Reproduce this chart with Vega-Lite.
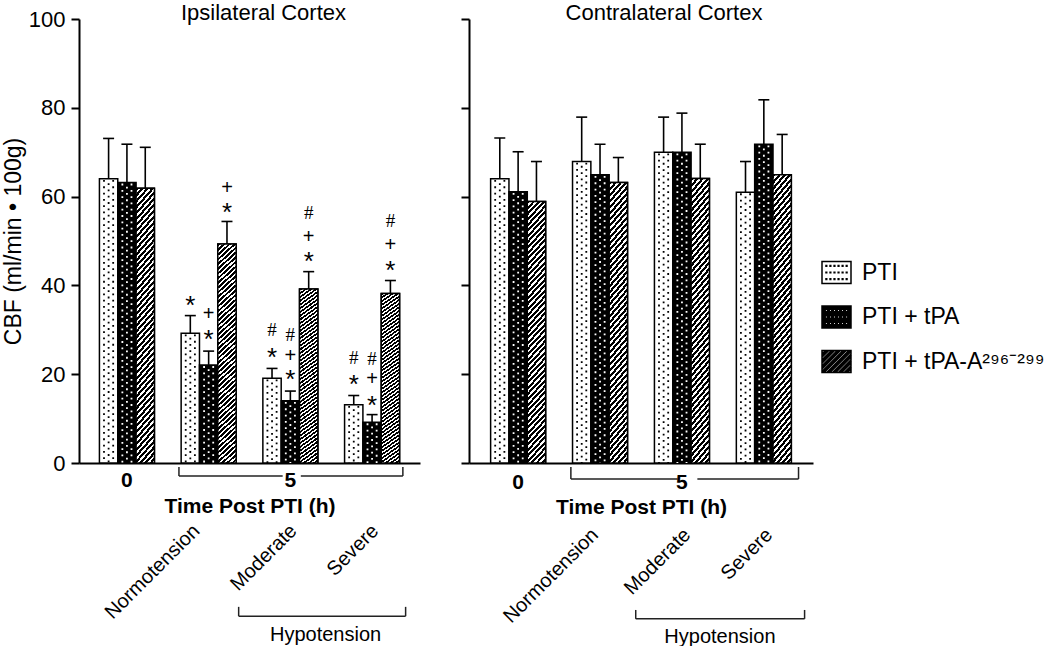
{
"$schema": "https://vega.github.io/schema/vega-lite/v6.json",
"padding": {"left": 2, "top": 2, "right": 0, "bottom": 0},
"spacing": 40,
"datasets": {
"bars": [
{"cortex":"Ipsilateral","group":"0h","series":"PTI","value":64,"err":73.1},
{"cortex":"Ipsilateral","group":"0h","series":"PTI + tPA","value":63.2,"err":71.8},
{"cortex":"Ipsilateral","group":"0h","series":"PTI + tPA-A²⁹⁶⁻²⁹⁹","value":61.9,"err":71.1},
{"cortex":"Ipsilateral","group":"Normotension","series":"PTI","value":29.2,"err":33.2},
{"cortex":"Ipsilateral","group":"Normotension","series":"PTI + tPA","value":22.1,"err":25.2},
{"cortex":"Ipsilateral","group":"Normotension","series":"PTI + tPA-A²⁹⁶⁻²⁹⁹","value":49.3,"err":54.4},
{"cortex":"Ipsilateral","group":"Moderate","series":"PTI","value":19.1,"err":21.3},
{"cortex":"Ipsilateral","group":"Moderate","series":"PTI + tPA","value":14,"err":16.2},
{"cortex":"Ipsilateral","group":"Moderate","series":"PTI + tPA-A²⁹⁶⁻²⁹⁹","value":39.2,"err":43.1},
{"cortex":"Ipsilateral","group":"Severe","series":"PTI","value":13.1,"err":15.2},
{"cortex":"Ipsilateral","group":"Severe","series":"PTI + tPA","value":9.2,"err":10.9},
{"cortex":"Ipsilateral","group":"Severe","series":"PTI + tPA-A²⁹⁶⁻²⁹⁹","value":38.2,"err":41.1},
{"cortex":"Contralateral","group":"0h","series":"PTI","value":64,"err":73.2},
{"cortex":"Contralateral","group":"0h","series":"PTI + tPA","value":61.1,"err":70.1},
{"cortex":"Contralateral","group":"0h","series":"PTI + tPA-A²⁹⁶⁻²⁹⁹","value":58.9,"err":67.9},
{"cortex":"Contralateral","group":"Normotension","series":"PTI","value":67.9,"err":77.9},
{"cortex":"Contralateral","group":"Normotension","series":"PTI + tPA","value":64.9,"err":71.8},
{"cortex":"Contralateral","group":"Normotension","series":"PTI + tPA-A²⁹⁶⁻²⁹⁹","value":63.2,"err":68.8},
{"cortex":"Contralateral","group":"Moderate","series":"PTI","value":70,"err":77.9},
{"cortex":"Contralateral","group":"Moderate","series":"PTI + tPA","value":70,"err":78.8},
{"cortex":"Contralateral","group":"Moderate","series":"PTI + tPA-A²⁹⁶⁻²⁹⁹","value":64.1,"err":71.8},
{"cortex":"Contralateral","group":"Severe","series":"PTI","value":61,"err":67.9},
{"cortex":"Contralateral","group":"Severe","series":"PTI + tPA","value":71.8,"err":81.8},
{"cortex":"Contralateral","group":"Severe","series":"PTI + tPA-A²⁹⁶⁻²⁹⁹","value":64.9,"err":74}
],
"notes": [
{"group":"Normotension","series":"PTI","sym":"*","pos":36.7},
{"group":"Normotension","series":"PTI + tPA","sym":"*","pos":29.1},
{"group":"Normotension","series":"PTI + tPA","sym":"+","pos":33.6},
{"group":"Normotension","series":"PTI + tPA-A²⁹⁶⁻²⁹⁹","sym":"*","pos":57.6},
{"group":"Normotension","series":"PTI + tPA-A²⁹⁶⁻²⁹⁹","sym":"+","pos":61.9},
{"group":"Moderate","series":"PTI","sym":"*","pos":24.9},
{"group":"Moderate","series":"PTI","sym":"#","pos":30.0},
{"group":"Moderate","series":"PTI + tPA","sym":"*","pos":20.0},
{"group":"Moderate","series":"PTI + tPA","sym":"+","pos":24.0},
{"group":"Moderate","series":"PTI + tPA","sym":"#","pos":28.8},
{"group":"Moderate","series":"PTI + tPA-A²⁹⁶⁻²⁹⁹","sym":"*","pos":46.6},
{"group":"Moderate","series":"PTI + tPA-A²⁹⁶⁻²⁹⁹","sym":"+","pos":50.8},
{"group":"Moderate","series":"PTI + tPA-A²⁹⁶⁻²⁹⁹","sym":"#","pos":56.2},
{"group":"Severe","series":"PTI","sym":"*","pos":18.9},
{"group":"Severe","series":"PTI","sym":"#","pos":23.6},
{"group":"Severe","series":"PTI + tPA","sym":"*","pos":14.3},
{"group":"Severe","series":"PTI + tPA","sym":"+","pos":18.9},
{"group":"Severe","series":"PTI + tPA","sym":"#","pos":23.4},
{"group":"Severe","series":"PTI + tPA-A²⁹⁶⁻²⁹⁹","sym":"*","pos":44.7},
{"group":"Severe","series":"PTI + tPA-A²⁹⁶⁻²⁹⁹","sym":"+","pos":49.1},
{"group":"Severe","series":"PTI + tPA-A²⁹⁶⁻²⁹⁹","sym":"#","pos":54.6}
],
"ticklabels": [
{"group":"0h","label":"0"},
{"group":"Moderate","label":"5"}
],
"conds": [
{"group":"Normotension","label":"Normotension"},
{"group":"Moderate","label":"Moderate"},
{"group":"Severe","label":"Severe"}
],
"hypo": [
{"group":"Moderate","label":"Hypotension"}
],
"brackets": [
{"cortex":"Ipsilateral","part":"t5a","g1":"Normotension","g2":"Moderate","ya":-2.9,"yb":-2.9},
{"cortex":"Ipsilateral","part":"t5b","g1":"Moderate","g2":"Severe","ya":-2.9,"yb":-2.9},
{"cortex":"Ipsilateral","part":"t5l","g1":"Normotension","g2":"Normotension","ya":-0.9,"yb":-2.9},
{"cortex":"Ipsilateral","part":"t5r","g1":"Severe","g2":"Severe","ya":-0.9,"yb":-2.9},
{"cortex":"Ipsilateral","part":"hy","g1":"Moderate","g2":"Severe","ya":-34.5,"yb":-34.5},
{"cortex":"Ipsilateral","part":"hyl","g1":"Moderate","g2":"Moderate","ya":-32.4,"yb":-34.5},
{"cortex":"Ipsilateral","part":"hyr","g1":"Severe","g2":"Severe","ya":-32.4,"yb":-34.5},
{"cortex":"Contralateral","part":"t5a","g1":"Normotension","g2":"Moderate","ya":-3.6,"yb":-3.6},
{"cortex":"Contralateral","part":"t5b","g1":"Moderate","g2":"Severe","ya":-3.6,"yb":-3.6},
{"cortex":"Contralateral","part":"t5l","g1":"Normotension","g2":"Normotension","ya":-0.9,"yb":-3.6},
{"cortex":"Contralateral","part":"t5r","g1":"Severe","g2":"Severe","ya":-0.9,"yb":-3.6},
{"cortex":"Contralateral","part":"hy","g1":"Moderate","g2":"Severe","ya":-35.1,"yb":-35.1},
{"cortex":"Contralateral","part":"hyl","g1":"Moderate","g2":"Moderate","ya":-33.1,"yb":-35.1},
{"cortex":"Contralateral","part":"hyr","g1":"Severe","g2":"Severe","ya":-33.1,"yb":-35.1}
]
},
"hconcat": [
{
"width": 341, "height": 444,
"title": {"text": "Ipsilateral Cortex", "fontSize": 22, "fontWeight": "normal", "color": "black", "anchor": "middle", "frame": "group", "dx": 14, "offset": -17},
"layer": [
{"data": {"name": "bars"}, "transform": [{"filter": "datum.cortex === 'Ipsilateral'"}],
 "mark": {"type": "bar", "stroke": "black", "strokeWidth": 1.5},
 "encoding": {
  "x": {"field": "group", "type": "nominal", "scale": {"domain": ["0h","Normotension","Moderate","Severe"], "paddingInner": 0.327, "paddingOuter": 0.25},
        "axis": {"labels": false, "ticks": false, "domainColor": "black", "domainWidth": 2, "title": "Time Post PTI (h)", "titleFontSize": 21, "titleFontWeight": "bold", "titleColor": "black", "titlePadding": 32}},
  "xOffset": {"field": "series", "type": "nominal", "scale": {"domain": ["PTI","PTI + tPA","PTI + tPA-A²⁹⁶⁻²⁹⁹"], "paddingInner": 0, "paddingOuter": 0}},
  "y": {"field": "value", "type": "quantitative", "scale": {"domain": [0,100], "nice": false},
        "axis": {"values": [0,20,40,60,80,100], "grid": false, "tickSize": 8, "tickWidth": 2, "tickColor": "black", "domainColor": "black", "domainWidth": 2, "labelFontSize": 22, "labelColor": "black", "labelPadding": 6, "title": "CBF (ml/min • 100g)", "titleFontSize": 23, "titleFontWeight": "normal", "titleColor": "black", "titlePadding": 3}},
  "fill": {"field": "series", "type": "nominal", "scale": {"domain": ["PTI","PTI + tPA","PTI + tPA-A²⁹⁶⁻²⁹⁹"], "range": ["#ffffff","#000000","#000000"]},
           "legend": {"title": null, "orient": "none", "legendX": 742, "legendY": 238, "labelFontSize": 23, "labelColor": "black", "labelFont": "Liberation Sans", "symbolSize": 841, "rowPadding": 14.5, "labelOffset": 10, "labelLimit": 400,
                      "encode": {"symbols": {"update": {"stroke": {"value": "black"}, "strokeWidth": {"signal": "datum.value === 'PTI' ? 1.2 : 0"}, "opacity": {"value": 1}, "fillOpacity": {"value": 1}}}}}}
 }},
{"data": {"name": "bars"}, "transform": [{"filter": "datum.cortex === 'Ipsilateral' && datum.series === 'PTI'"}],
 "mark": {"type": "rule", "strokeWidth": 1.8, "strokeDash": [1.8, 4.5], "strokeDashOffset": 5.1, "strokeCap": "butt", "color": "black"},
 "encoding": {"x": {"field": "group", "type": "nominal", "bandPosition": 0.083}, "y": {"field": "value", "type": "quantitative"}, "y2": {"datum": 0}}},
{"data": {"name": "bars"}, "transform": [{"filter": "datum.cortex === 'Ipsilateral' && datum.series === 'PTI'"}],
 "mark": {"type": "rule", "strokeWidth": 1.8, "strokeDash": [1.8, 4.5], "strokeDashOffset": 1.95, "strokeCap": "butt", "color": "black"},
 "encoding": {"x": {"field": "group", "type": "nominal", "bandPosition": 0.167}, "y": {"field": "value", "type": "quantitative"}, "y2": {"datum": 0}}},
{"data": {"name": "bars"}, "transform": [{"filter": "datum.cortex === 'Ipsilateral' && datum.series === 'PTI'"}],
 "mark": {"type": "rule", "strokeWidth": 1.8, "strokeDash": [1.8, 4.5], "strokeDashOffset": 5.1, "strokeCap": "butt", "color": "black"},
 "encoding": {"x": {"field": "group", "type": "nominal", "bandPosition": 0.25}, "y": {"field": "value", "type": "quantitative"}, "y2": {"datum": 0}}},
{"data": {"name": "bars"}, "transform": [{"filter": "datum.cortex === 'Ipsilateral' && datum.series === 'PTI + tPA'"}],
 "mark": {"type": "rule", "strokeWidth": 1.8, "strokeDash": [1.8, 4.5], "strokeDashOffset": 5.1, "strokeCap": "butt", "color": "white"},
 "encoding": {"x": {"field": "group", "type": "nominal", "bandPosition": 0.417}, "y": {"field": "value", "type": "quantitative"}, "y2": {"datum": 0}}},
{"data": {"name": "bars"}, "transform": [{"filter": "datum.cortex === 'Ipsilateral' && datum.series === 'PTI + tPA'"}],
 "mark": {"type": "rule", "strokeWidth": 1.8, "strokeDash": [1.8, 4.5], "strokeDashOffset": 1.95, "strokeCap": "butt", "color": "white"},
 "encoding": {"x": {"field": "group", "type": "nominal", "bandPosition": 0.5}, "y": {"field": "value", "type": "quantitative"}, "y2": {"datum": 0}}},
{"data": {"name": "bars"}, "transform": [{"filter": "datum.cortex === 'Ipsilateral' && datum.series === 'PTI + tPA'"}],
 "mark": {"type": "rule", "strokeWidth": 1.8, "strokeDash": [1.8, 4.5], "strokeDashOffset": 5.1, "strokeCap": "butt", "color": "white"},
 "encoding": {"x": {"field": "group", "type": "nominal", "bandPosition": 0.583}, "y": {"field": "value", "type": "quantitative"}, "y2": {"datum": 0}}},
{"data": {"name": "bars"}, "transform": [{"filter": "datum.cortex === 'Ipsilateral' && indexof(datum.series, 'tPA-A') >= 0"}],
 "mark": {"type": "bar", "stroke": "black", "strokeWidth": 1.5,
  "fill": {"gradient": "linear", "x1": 0, "y1": 0, "x2": 0.0817, "y2": 1.07, "stops": [{"offset":0,"color":"#000"},{"offset":0.011,"color":"#000"},{"offset":0.011,"color":"#fff"},{"offset":0.02,"color":"#fff"},{"offset":0.02,"color":"#000"},{"offset":0.031,"color":"#000"},{"offset":0.031,"color":"#fff"},{"offset":0.04,"color":"#fff"},{"offset":0.04,"color":"#000"},{"offset":0.051,"color":"#000"},{"offset":0.051,"color":"#fff"},{"offset":0.06,"color":"#fff"},{"offset":0.06,"color":"#000"},{"offset":0.071,"color":"#000"},{"offset":0.071,"color":"#fff"},{"offset":0.08,"color":"#fff"},{"offset":0.08,"color":"#000"},{"offset":0.091,"color":"#000"},{"offset":0.091,"color":"#fff"},{"offset":0.1,"color":"#fff"},{"offset":0.1,"color":"#000"},{"offset":0.111,"color":"#000"},{"offset":0.111,"color":"#fff"},{"offset":0.12,"color":"#fff"},{"offset":0.12,"color":"#000"},{"offset":0.131,"color":"#000"},{"offset":0.131,"color":"#fff"},{"offset":0.14,"color":"#fff"},{"offset":0.14,"color":"#000"},{"offset":0.151,"color":"#000"},{"offset":0.151,"color":"#fff"},{"offset":0.16,"color":"#fff"},{"offset":0.16,"color":"#000"},{"offset":0.171,"color":"#000"},{"offset":0.171,"color":"#fff"},{"offset":0.18,"color":"#fff"},{"offset":0.18,"color":"#000"},{"offset":0.191,"color":"#000"},{"offset":0.191,"color":"#fff"},{"offset":0.2,"color":"#fff"},{"offset":0.2,"color":"#000"},{"offset":0.211,"color":"#000"},{"offset":0.211,"color":"#fff"},{"offset":0.22,"color":"#fff"},{"offset":0.22,"color":"#000"},{"offset":0.231,"color":"#000"},{"offset":0.231,"color":"#fff"},{"offset":0.24,"color":"#fff"},{"offset":0.24,"color":"#000"},{"offset":0.251,"color":"#000"},{"offset":0.251,"color":"#fff"},{"offset":0.26,"color":"#fff"},{"offset":0.26,"color":"#000"},{"offset":0.271,"color":"#000"},{"offset":0.271,"color":"#fff"},{"offset":0.28,"color":"#fff"},{"offset":0.28,"color":"#000"},{"offset":0.291,"color":"#000"},{"offset":0.291,"color":"#fff"},{"offset":0.3,"color":"#fff"},{"offset":0.3,"color":"#000"},{"offset":0.311,"color":"#000"},{"offset":0.311,"color":"#fff"},{"offset":0.32,"color":"#fff"},{"offset":0.32,"color":"#000"},{"offset":0.331,"color":"#000"},{"offset":0.331,"color":"#fff"},{"offset":0.34,"color":"#fff"},{"offset":0.34,"color":"#000"},{"offset":0.351,"color":"#000"},{"offset":0.351,"color":"#fff"},{"offset":0.36,"color":"#fff"},{"offset":0.36,"color":"#000"},{"offset":0.371,"color":"#000"},{"offset":0.371,"color":"#fff"},{"offset":0.38,"color":"#fff"},{"offset":0.38,"color":"#000"},{"offset":0.391,"color":"#000"},{"offset":0.391,"color":"#fff"},{"offset":0.4,"color":"#fff"},{"offset":0.4,"color":"#000"},{"offset":0.411,"color":"#000"},{"offset":0.411,"color":"#fff"},{"offset":0.42,"color":"#fff"},{"offset":0.42,"color":"#000"},{"offset":0.431,"color":"#000"},{"offset":0.431,"color":"#fff"},{"offset":0.44,"color":"#fff"},{"offset":0.44,"color":"#000"},{"offset":0.451,"color":"#000"},{"offset":0.451,"color":"#fff"},{"offset":0.46,"color":"#fff"},{"offset":0.46,"color":"#000"},{"offset":0.471,"color":"#000"},{"offset":0.471,"color":"#fff"},{"offset":0.48,"color":"#fff"},{"offset":0.48,"color":"#000"},{"offset":0.491,"color":"#000"},{"offset":0.491,"color":"#fff"},{"offset":0.5,"color":"#fff"},{"offset":0.5,"color":"#000"},{"offset":0.511,"color":"#000"},{"offset":0.511,"color":"#fff"},{"offset":0.52,"color":"#fff"},{"offset":0.52,"color":"#000"},{"offset":0.531,"color":"#000"},{"offset":0.531,"color":"#fff"},{"offset":0.54,"color":"#fff"},{"offset":0.54,"color":"#000"},{"offset":0.551,"color":"#000"},{"offset":0.551,"color":"#fff"},{"offset":0.56,"color":"#fff"},{"offset":0.56,"color":"#000"},{"offset":0.571,"color":"#000"},{"offset":0.571,"color":"#fff"},{"offset":0.58,"color":"#fff"},{"offset":0.58,"color":"#000"},{"offset":0.591,"color":"#000"},{"offset":0.591,"color":"#fff"},{"offset":0.6,"color":"#fff"},{"offset":0.6,"color":"#000"},{"offset":0.611,"color":"#000"},{"offset":0.611,"color":"#fff"},{"offset":0.62,"color":"#fff"},{"offset":0.62,"color":"#000"},{"offset":0.631,"color":"#000"},{"offset":0.631,"color":"#fff"},{"offset":0.64,"color":"#fff"},{"offset":0.64,"color":"#000"},{"offset":0.651,"color":"#000"},{"offset":0.651,"color":"#fff"},{"offset":0.66,"color":"#fff"},{"offset":0.66,"color":"#000"},{"offset":0.671,"color":"#000"},{"offset":0.671,"color":"#fff"},{"offset":0.68,"color":"#fff"},{"offset":0.68,"color":"#000"},{"offset":0.691,"color":"#000"},{"offset":0.691,"color":"#fff"},{"offset":0.7,"color":"#fff"},{"offset":0.7,"color":"#000"},{"offset":0.711,"color":"#000"},{"offset":0.711,"color":"#fff"},{"offset":0.72,"color":"#fff"},{"offset":0.72,"color":"#000"},{"offset":0.731,"color":"#000"},{"offset":0.731,"color":"#fff"},{"offset":0.74,"color":"#fff"},{"offset":0.74,"color":"#000"},{"offset":0.751,"color":"#000"},{"offset":0.751,"color":"#fff"},{"offset":0.76,"color":"#fff"},{"offset":0.76,"color":"#000"},{"offset":0.771,"color":"#000"},{"offset":0.771,"color":"#fff"},{"offset":0.78,"color":"#fff"},{"offset":0.78,"color":"#000"},{"offset":0.791,"color":"#000"},{"offset":0.791,"color":"#fff"},{"offset":0.8,"color":"#fff"},{"offset":0.8,"color":"#000"},{"offset":0.811,"color":"#000"},{"offset":0.811,"color":"#fff"},{"offset":0.82,"color":"#fff"},{"offset":0.82,"color":"#000"},{"offset":0.831,"color":"#000"},{"offset":0.831,"color":"#fff"},{"offset":0.84,"color":"#fff"},{"offset":0.84,"color":"#000"},{"offset":0.851,"color":"#000"},{"offset":0.851,"color":"#fff"},{"offset":0.86,"color":"#fff"},{"offset":0.86,"color":"#000"},{"offset":0.871,"color":"#000"},{"offset":0.871,"color":"#fff"},{"offset":0.88,"color":"#fff"},{"offset":0.88,"color":"#000"},{"offset":0.891,"color":"#000"},{"offset":0.891,"color":"#fff"},{"offset":0.9,"color":"#fff"},{"offset":0.9,"color":"#000"},{"offset":0.911,"color":"#000"},{"offset":0.911,"color":"#fff"},{"offset":0.92,"color":"#fff"},{"offset":0.92,"color":"#000"},{"offset":0.931,"color":"#000"},{"offset":0.931,"color":"#fff"},{"offset":0.94,"color":"#fff"},{"offset":0.94,"color":"#000"},{"offset":0.951,"color":"#000"},{"offset":0.951,"color":"#fff"},{"offset":0.96,"color":"#fff"},{"offset":0.96,"color":"#000"},{"offset":0.971,"color":"#000"},{"offset":0.971,"color":"#fff"},{"offset":0.98,"color":"#fff"},{"offset":0.98,"color":"#000"},{"offset":0.991,"color":"#000"},{"offset":0.991,"color":"#fff"},{"offset":1,"color":"#fff"}]}},
 "encoding": {"x": {"field": "group", "type": "nominal"}, "xOffset": {"field": "series", "type": "nominal"}, "y": {"field": "value", "type": "quantitative"}}},
{"data": {"name": "bars"}, "transform": [{"filter": "datum.cortex === 'Ipsilateral'"}],
 "mark": {"type": "rule", "strokeWidth": 1.6, "color": "black"},
 "encoding": {"x": {"field": "group", "type": "nominal"}, "xOffset": {"field": "series", "type": "nominal"}, "y": {"field": "value", "type": "quantitative"}, "y2": {"field": "err"}}},
{"data": {"name": "bars"}, "transform": [{"filter": "datum.cortex === 'Ipsilateral'"}],
 "mark": {"type": "tick", "orient": "horizontal", "size": 11, "thickness": 1.6, "color": "black", "opacity": 1},
 "encoding": {"x": {"field": "group", "type": "nominal"}, "xOffset": {"field": "series", "type": "nominal"}, "y": {"field": "err", "type": "quantitative"}}},
{"data": {"name": "notes"}, "transform": [{"filter": "datum.sym === '*'"}],
 "mark": {"type": "text", "fontSize": 26, "font": "Liberation Sans", "baseline": "middle", "dy": 6, "color": "black"},
 "encoding": {"x": {"field": "group", "type": "nominal"}, "xOffset": {"field": "series", "type": "nominal"}, "y": {"field": "pos", "type": "quantitative"}, "text": {"field": "sym"}}},
{"data": {"name": "notes"}, "transform": [{"filter": "datum.sym === '+'"}],
 "mark": {"type": "text", "fontSize": 20, "font": "Liberation Sans", "baseline": "middle", "color": "black"},
 "encoding": {"x": {"field": "group", "type": "nominal"}, "xOffset": {"field": "series", "type": "nominal"}, "y": {"field": "pos", "type": "quantitative"}, "text": {"field": "sym"}}},
{"data": {"name": "notes"}, "transform": [{"filter": "datum.sym === '#'"}],
 "mark": {"type": "text", "fontSize": 19, "font": "Liberation Serif", "baseline": "middle", "color": "black"},
 "encoding": {"x": {"field": "group", "type": "nominal"}, "xOffset": {"field": "series", "type": "nominal"}, "y": {"field": "pos", "type": "quantitative"}, "text": {"field": "sym"}}},
{"data": {"name": "brackets"}, "transform": [{"filter": "datum.cortex === 'Ipsilateral' && datum.part === 't5a'"}],
 "mark": {"type": "rule", "strokeWidth": 1.5, "color": "#222"},
 "encoding": {"x": {"field": "g1", "type": "nominal", "bandPosition": -0.04}, "x2": {"field": "g2", "bandPosition": 0.36}, "y": {"field": "ya", "type": "quantitative"}}},
{"data": {"name": "brackets"}, "transform": [{"filter": "datum.cortex === 'Ipsilateral' && datum.part === 't5b'"}],
 "mark": {"type": "rule", "strokeWidth": 1.5, "color": "#222"},
 "encoding": {"x": {"field": "g1", "type": "nominal", "bandPosition": 0.69}, "x2": {"field": "g2", "bandPosition": 1.06}, "y": {"field": "ya", "type": "quantitative"}}},
{"data": {"name": "brackets"}, "transform": [{"filter": "datum.cortex === 'Ipsilateral' && datum.part === 't5l'"}],
 "mark": {"type": "rule", "strokeWidth": 1.5, "color": "#222"},
 "encoding": {"x": {"field": "g1", "type": "nominal", "bandPosition": -0.04}, "y": {"field": "ya", "type": "quantitative"}, "y2": {"field": "yb"}}},
{"data": {"name": "brackets"}, "transform": [{"filter": "datum.cortex === 'Ipsilateral' && datum.part === 't5r'"}],
 "mark": {"type": "rule", "strokeWidth": 1.5, "color": "#222"},
 "encoding": {"x": {"field": "g1", "type": "nominal", "bandPosition": 1.06}, "y": {"field": "ya", "type": "quantitative"}, "y2": {"field": "yb"}}},
{"data": {"name": "brackets"}, "transform": [{"filter": "datum.cortex === 'Ipsilateral' && datum.part === 'hy'"}],
 "mark": {"type": "rule", "strokeWidth": 1.5, "color": "#222"},
 "encoding": {"x": {"field": "g1", "type": "nominal", "bandPosition": -0.44}, "x2": {"field": "g2", "bandPosition": 1.11}, "y": {"field": "ya", "type": "quantitative"}}},
{"data": {"name": "brackets"}, "transform": [{"filter": "datum.cortex === 'Ipsilateral' && datum.part === 'hyl'"}],
 "mark": {"type": "rule", "strokeWidth": 1.5, "color": "#222"},
 "encoding": {"x": {"field": "g1", "type": "nominal", "bandPosition": -0.44}, "y": {"field": "ya", "type": "quantitative"}, "y2": {"field": "yb"}}},
{"data": {"name": "brackets"}, "transform": [{"filter": "datum.cortex === 'Ipsilateral' && datum.part === 'hyr'"}],
 "mark": {"type": "rule", "strokeWidth": 1.5, "color": "#222"},
 "encoding": {"x": {"field": "g1", "type": "nominal", "bandPosition": 1.11}, "y": {"field": "ya", "type": "quantitative"}, "y2": {"field": "yb"}}},
{"data": {"name": "ticklabels"},
 "mark": {"type": "text", "fontSize": 21, "fontWeight": "bold", "baseline": "alphabetic", "color": "black"},
 "encoding": {"x": {"field": "group", "type": "nominal"}, "y": {"datum": -5.4, "type": "quantitative"}, "text": {"field": "label"}}},
{"data": {"name": "conds"}, "transform": [{"filter": "datum.group === 'Normotension'"}],
 "mark": {"type": "text", "fontSize": 20, "angle": -45, "align": "right", "baseline": "middle", "color": "black"},
 "encoding": {"x": {"field": "group", "type": "nominal", "bandPosition": 0.28}, "y": {"datum": -14.6, "type": "quantitative"}, "text": {"field": "label"}}},
{"data": {"name": "conds"}, "transform": [{"filter": "datum.group !== 'Normotension'"}],
 "mark": {"type": "text", "fontSize": 20, "angle": -45, "align": "right", "baseline": "middle", "color": "black"},
 "encoding": {"x": {"field": "group", "type": "nominal", "bandPosition": 0.56}, "y": {"datum": -14.6, "type": "quantitative"}, "text": {"field": "label"}}},
{"data": {"name": "hypo"},
 "mark": {"type": "text", "fontSize": 20, "baseline": "alphabetic", "color": "black"},
 "encoding": {"x": {"field": "group", "type": "nominal", "bandPosition": 1.14}, "y": {"datum": -40.1, "type": "quantitative"}, "text": {"field": "label"}}},
{"data": {"name": "bars"}, "transform": [{"filter": "false"}],
 "mark": {"type": "point", "filled": true, "opacity": 1},
 "encoding": {
  "fill": {"field": "series", "type": "nominal", "scale": {"domain": ["PTI","PTI + tPA","PTI + tPA-A²⁹⁶⁻²⁹⁹"], "range": ["#ffffff","#000000","#000000"]},
           "legend": {"title": null, "orient": "none", "legendX": 742, "legendY": 238, "labelFontSize": 23, "labelColor": "black", "labelFont": "Liberation Sans", "symbolSize": 841, "rowPadding": 14.5, "labelOffset": 10, "labelLimit": 400,
                      "encode": {"symbols": {"update": {"stroke": {"value": "black"}, "strokeWidth": {"signal": "datum.value === 'PTI' ? 1.2 : 0"}, "opacity": {"value": 1}, "fillOpacity": {"value": 1}}}}}},
  "shape": {"field": "series", "type": "nominal",
            "scale": {"domain": ["PTI","PTI + tPA","PTI + tPA-A²⁹⁶⁻²⁹⁹"],
                      "range": [
"M-1,-0.76H1V0.76H-1Z M-0.725,-0.475h0.05v0.05h-0.05Z M-0.445,-0.475h0.05v0.05h-0.05Z M-0.165,-0.475h0.05v0.05h-0.05Z M0.115,-0.475h0.05v0.05h-0.05Z M0.395,-0.475h0.05v0.05h-0.05Z M0.675,-0.475h0.05v0.05h-0.05Z M-0.725,-0.025h0.05v0.05h-0.05Z M-0.445,-0.025h0.05v0.05h-0.05Z M-0.165,-0.025h0.05v0.05h-0.05Z M0.115,-0.025h0.05v0.05h-0.05Z M0.395,-0.025h0.05v0.05h-0.05Z M0.675,-0.025h0.05v0.05h-0.05Z M-0.725,0.425h0.05v0.05h-0.05Z M-0.445,0.425h0.05v0.05h-0.05Z M-0.165,0.425h0.05v0.05h-0.05Z M0.115,0.425h0.05v0.05h-0.05Z M0.395,0.425h0.05v0.05h-0.05Z M0.675,0.425h0.05v0.05h-0.05Z",
"M-1,-0.76H1V0.76H-1Z M-0.78,-0.53v0.16h0.16v-0.16Z M-0.5,-0.53v0.16h0.16v-0.16Z M-0.22,-0.53v0.16h0.16v-0.16Z M0.06,-0.53v0.16h0.16v-0.16Z M0.34,-0.53v0.16h0.16v-0.16Z M0.62,-0.53v0.16h0.16v-0.16Z M-0.78,-0.08v0.16h0.16v-0.16Z M-0.5,-0.08v0.16h0.16v-0.16Z M-0.22,-0.08v0.16h0.16v-0.16Z M0.06,-0.08v0.16h0.16v-0.16Z M0.34,-0.08v0.16h0.16v-0.16Z M0.62,-0.08v0.16h0.16v-0.16Z M-0.78,0.37v0.16h0.16v-0.16Z M-0.5,0.37v0.16h0.16v-0.16Z M-0.22,0.37v0.16h0.16v-0.16Z M0.06,0.37v0.16h0.16v-0.16Z M0.34,0.37v0.16h0.16v-0.16Z M0.62,0.37v0.16h0.16v-0.16Z",
"M-1,-0.76H1V0.76H-1Z M-1,-0.51L-0.75,-0.76L-0.93,-0.76L-1,-0.69Z M-1,-0.11L-0.35,-0.76L-0.53,-0.76L-1,-0.29Z M-1,0.29L0.05,-0.76L-0.13,-0.76L-1,0.11Z M-1,0.69L0.45,-0.76L0.27,-0.76L-1,0.51Z M-0.67,0.76L0.85,-0.76L0.67,-0.76L-0.85,0.76Z M-0.27,0.76L1,-0.51L1,-0.69L-0.45,0.76Z M0.13,0.76L1,-0.11L1,-0.29L-0.05,0.76Z M0.53,0.76L1,0.29L1,0.11L0.35,0.76Z M0.93,0.76L1,0.69L1,0.51L0.75,0.76Z"
                      ]},
            "legend": {"title": null, "orient": "none", "legendX": 742, "legendY": 238, "labelFontSize": 23, "labelColor": "black", "labelFont": "Liberation Sans", "symbolSize": 841, "rowPadding": 14.5, "labelOffset": 10, "labelLimit": 400,
                      "encode": {"symbols": {"update": {"stroke": {"value": "black"}, "strokeWidth": {"signal": "datum.value === 'PTI' ? 1.2 : 0"}, "opacity": {"value": 1}, "fillOpacity": {"value": 1}}}}}}
 }}
]
},
{
"width": 344, "height": 444,
"title": {"text": "Contralateral Cortex", "fontSize": 22, "fontWeight": "normal", "color": "black", "anchor": "middle", "frame": "group", "dx": 23, "offset": -7},
"layer": [
{"data": {"name": "bars"}, "transform": [{"filter": "datum.cortex === 'Contralateral'"}],
 "mark": {"type": "bar", "stroke": "black", "strokeWidth": 1.5},
 "encoding": {
  "x": {"field": "group", "type": "nominal", "scale": {"domain": ["0h","Normotension","Moderate","Severe"], "paddingInner": 0.328, "paddingOuter": 0.264},
        "axis": {"labels": false, "ticks": false, "domainColor": "black", "domainWidth": 2, "title": "Time Post PTI (h)", "titleFontSize": 21, "titleFontWeight": "bold", "titleColor": "black", "titlePadding": 33}},
  "xOffset": {"field": "series", "type": "nominal", "scale": {"domain": ["PTI","PTI + tPA","PTI + tPA-A²⁹⁶⁻²⁹⁹"], "paddingInner": 0, "paddingOuter": 0}},
  "y": {"field": "value", "type": "quantitative", "scale": {"domain": [0,100], "nice": false},
        "axis": {"values": [0,20,40,60,80,100], "grid": false, "tickSize": 8, "tickWidth": 2, "tickColor": "black", "domainColor": "black", "domainWidth": 2, "labels": false, "title": null}},
  "fill": {"field": "series", "type": "nominal", "scale": {"domain": ["PTI","PTI + tPA","PTI + tPA-A²⁹⁶⁻²⁹⁹"], "range": ["#ffffff","#000000","#000000"]},
           "legend": {"title": null, "orient": "none", "legendX": 742, "legendY": 238, "labelFontSize": 23, "labelColor": "black", "labelFont": "Liberation Sans", "symbolSize": 841, "rowPadding": 14.5, "labelOffset": 10, "labelLimit": 400,
                      "encode": {"symbols": {"update": {"stroke": {"value": "black"}, "strokeWidth": {"signal": "datum.value === 'PTI' ? 1.2 : 0"}, "opacity": {"value": 1}, "fillOpacity": {"value": 1}}}}}}
 }},
{"data": {"name": "bars"}, "transform": [{"filter": "datum.cortex === 'Contralateral' && datum.series === 'PTI'"}],
 "mark": {"type": "rule", "strokeWidth": 1.8, "strokeDash": [1.8, 4.5], "strokeDashOffset": 5.1, "strokeCap": "butt", "color": "black"},
 "encoding": {"x": {"field": "group", "type": "nominal", "bandPosition": 0.083}, "y": {"field": "value", "type": "quantitative"}, "y2": {"datum": 0}}},
{"data": {"name": "bars"}, "transform": [{"filter": "datum.cortex === 'Contralateral' && datum.series === 'PTI'"}],
 "mark": {"type": "rule", "strokeWidth": 1.8, "strokeDash": [1.8, 4.5], "strokeDashOffset": 1.95, "strokeCap": "butt", "color": "black"},
 "encoding": {"x": {"field": "group", "type": "nominal", "bandPosition": 0.167}, "y": {"field": "value", "type": "quantitative"}, "y2": {"datum": 0}}},
{"data": {"name": "bars"}, "transform": [{"filter": "datum.cortex === 'Contralateral' && datum.series === 'PTI'"}],
 "mark": {"type": "rule", "strokeWidth": 1.8, "strokeDash": [1.8, 4.5], "strokeDashOffset": 5.1, "strokeCap": "butt", "color": "black"},
 "encoding": {"x": {"field": "group", "type": "nominal", "bandPosition": 0.25}, "y": {"field": "value", "type": "quantitative"}, "y2": {"datum": 0}}},
{"data": {"name": "bars"}, "transform": [{"filter": "datum.cortex === 'Contralateral' && datum.series === 'PTI + tPA'"}],
 "mark": {"type": "rule", "strokeWidth": 1.8, "strokeDash": [1.8, 4.5], "strokeDashOffset": 5.1, "strokeCap": "butt", "color": "white"},
 "encoding": {"x": {"field": "group", "type": "nominal", "bandPosition": 0.417}, "y": {"field": "value", "type": "quantitative"}, "y2": {"datum": 0}}},
{"data": {"name": "bars"}, "transform": [{"filter": "datum.cortex === 'Contralateral' && datum.series === 'PTI + tPA'"}],
 "mark": {"type": "rule", "strokeWidth": 1.8, "strokeDash": [1.8, 4.5], "strokeDashOffset": 1.95, "strokeCap": "butt", "color": "white"},
 "encoding": {"x": {"field": "group", "type": "nominal", "bandPosition": 0.5}, "y": {"field": "value", "type": "quantitative"}, "y2": {"datum": 0}}},
{"data": {"name": "bars"}, "transform": [{"filter": "datum.cortex === 'Contralateral' && datum.series === 'PTI + tPA'"}],
 "mark": {"type": "rule", "strokeWidth": 1.8, "strokeDash": [1.8, 4.5], "strokeDashOffset": 5.1, "strokeCap": "butt", "color": "white"},
 "encoding": {"x": {"field": "group", "type": "nominal", "bandPosition": 0.583}, "y": {"field": "value", "type": "quantitative"}, "y2": {"datum": 0}}},
{"data": {"name": "bars"}, "transform": [{"filter": "datum.cortex === 'Contralateral' && indexof(datum.series, 'tPA-A') >= 0"}],
 "mark": {"type": "bar", "stroke": "black", "strokeWidth": 1.5,
  "fill": {"gradient": "linear", "x1": 0, "y1": 0, "x2": 0.0817, "y2": 1.07, "stops": [{"offset":0,"color":"#000"},{"offset":0.011,"color":"#000"},{"offset":0.011,"color":"#fff"},{"offset":0.02,"color":"#fff"},{"offset":0.02,"color":"#000"},{"offset":0.031,"color":"#000"},{"offset":0.031,"color":"#fff"},{"offset":0.04,"color":"#fff"},{"offset":0.04,"color":"#000"},{"offset":0.051,"color":"#000"},{"offset":0.051,"color":"#fff"},{"offset":0.06,"color":"#fff"},{"offset":0.06,"color":"#000"},{"offset":0.071,"color":"#000"},{"offset":0.071,"color":"#fff"},{"offset":0.08,"color":"#fff"},{"offset":0.08,"color":"#000"},{"offset":0.091,"color":"#000"},{"offset":0.091,"color":"#fff"},{"offset":0.1,"color":"#fff"},{"offset":0.1,"color":"#000"},{"offset":0.111,"color":"#000"},{"offset":0.111,"color":"#fff"},{"offset":0.12,"color":"#fff"},{"offset":0.12,"color":"#000"},{"offset":0.131,"color":"#000"},{"offset":0.131,"color":"#fff"},{"offset":0.14,"color":"#fff"},{"offset":0.14,"color":"#000"},{"offset":0.151,"color":"#000"},{"offset":0.151,"color":"#fff"},{"offset":0.16,"color":"#fff"},{"offset":0.16,"color":"#000"},{"offset":0.171,"color":"#000"},{"offset":0.171,"color":"#fff"},{"offset":0.18,"color":"#fff"},{"offset":0.18,"color":"#000"},{"offset":0.191,"color":"#000"},{"offset":0.191,"color":"#fff"},{"offset":0.2,"color":"#fff"},{"offset":0.2,"color":"#000"},{"offset":0.211,"color":"#000"},{"offset":0.211,"color":"#fff"},{"offset":0.22,"color":"#fff"},{"offset":0.22,"color":"#000"},{"offset":0.231,"color":"#000"},{"offset":0.231,"color":"#fff"},{"offset":0.24,"color":"#fff"},{"offset":0.24,"color":"#000"},{"offset":0.251,"color":"#000"},{"offset":0.251,"color":"#fff"},{"offset":0.26,"color":"#fff"},{"offset":0.26,"color":"#000"},{"offset":0.271,"color":"#000"},{"offset":0.271,"color":"#fff"},{"offset":0.28,"color":"#fff"},{"offset":0.28,"color":"#000"},{"offset":0.291,"color":"#000"},{"offset":0.291,"color":"#fff"},{"offset":0.3,"color":"#fff"},{"offset":0.3,"color":"#000"},{"offset":0.311,"color":"#000"},{"offset":0.311,"color":"#fff"},{"offset":0.32,"color":"#fff"},{"offset":0.32,"color":"#000"},{"offset":0.331,"color":"#000"},{"offset":0.331,"color":"#fff"},{"offset":0.34,"color":"#fff"},{"offset":0.34,"color":"#000"},{"offset":0.351,"color":"#000"},{"offset":0.351,"color":"#fff"},{"offset":0.36,"color":"#fff"},{"offset":0.36,"color":"#000"},{"offset":0.371,"color":"#000"},{"offset":0.371,"color":"#fff"},{"offset":0.38,"color":"#fff"},{"offset":0.38,"color":"#000"},{"offset":0.391,"color":"#000"},{"offset":0.391,"color":"#fff"},{"offset":0.4,"color":"#fff"},{"offset":0.4,"color":"#000"},{"offset":0.411,"color":"#000"},{"offset":0.411,"color":"#fff"},{"offset":0.42,"color":"#fff"},{"offset":0.42,"color":"#000"},{"offset":0.431,"color":"#000"},{"offset":0.431,"color":"#fff"},{"offset":0.44,"color":"#fff"},{"offset":0.44,"color":"#000"},{"offset":0.451,"color":"#000"},{"offset":0.451,"color":"#fff"},{"offset":0.46,"color":"#fff"},{"offset":0.46,"color":"#000"},{"offset":0.471,"color":"#000"},{"offset":0.471,"color":"#fff"},{"offset":0.48,"color":"#fff"},{"offset":0.48,"color":"#000"},{"offset":0.491,"color":"#000"},{"offset":0.491,"color":"#fff"},{"offset":0.5,"color":"#fff"},{"offset":0.5,"color":"#000"},{"offset":0.511,"color":"#000"},{"offset":0.511,"color":"#fff"},{"offset":0.52,"color":"#fff"},{"offset":0.52,"color":"#000"},{"offset":0.531,"color":"#000"},{"offset":0.531,"color":"#fff"},{"offset":0.54,"color":"#fff"},{"offset":0.54,"color":"#000"},{"offset":0.551,"color":"#000"},{"offset":0.551,"color":"#fff"},{"offset":0.56,"color":"#fff"},{"offset":0.56,"color":"#000"},{"offset":0.571,"color":"#000"},{"offset":0.571,"color":"#fff"},{"offset":0.58,"color":"#fff"},{"offset":0.58,"color":"#000"},{"offset":0.591,"color":"#000"},{"offset":0.591,"color":"#fff"},{"offset":0.6,"color":"#fff"},{"offset":0.6,"color":"#000"},{"offset":0.611,"color":"#000"},{"offset":0.611,"color":"#fff"},{"offset":0.62,"color":"#fff"},{"offset":0.62,"color":"#000"},{"offset":0.631,"color":"#000"},{"offset":0.631,"color":"#fff"},{"offset":0.64,"color":"#fff"},{"offset":0.64,"color":"#000"},{"offset":0.651,"color":"#000"},{"offset":0.651,"color":"#fff"},{"offset":0.66,"color":"#fff"},{"offset":0.66,"color":"#000"},{"offset":0.671,"color":"#000"},{"offset":0.671,"color":"#fff"},{"offset":0.68,"color":"#fff"},{"offset":0.68,"color":"#000"},{"offset":0.691,"color":"#000"},{"offset":0.691,"color":"#fff"},{"offset":0.7,"color":"#fff"},{"offset":0.7,"color":"#000"},{"offset":0.711,"color":"#000"},{"offset":0.711,"color":"#fff"},{"offset":0.72,"color":"#fff"},{"offset":0.72,"color":"#000"},{"offset":0.731,"color":"#000"},{"offset":0.731,"color":"#fff"},{"offset":0.74,"color":"#fff"},{"offset":0.74,"color":"#000"},{"offset":0.751,"color":"#000"},{"offset":0.751,"color":"#fff"},{"offset":0.76,"color":"#fff"},{"offset":0.76,"color":"#000"},{"offset":0.771,"color":"#000"},{"offset":0.771,"color":"#fff"},{"offset":0.78,"color":"#fff"},{"offset":0.78,"color":"#000"},{"offset":0.791,"color":"#000"},{"offset":0.791,"color":"#fff"},{"offset":0.8,"color":"#fff"},{"offset":0.8,"color":"#000"},{"offset":0.811,"color":"#000"},{"offset":0.811,"color":"#fff"},{"offset":0.82,"color":"#fff"},{"offset":0.82,"color":"#000"},{"offset":0.831,"color":"#000"},{"offset":0.831,"color":"#fff"},{"offset":0.84,"color":"#fff"},{"offset":0.84,"color":"#000"},{"offset":0.851,"color":"#000"},{"offset":0.851,"color":"#fff"},{"offset":0.86,"color":"#fff"},{"offset":0.86,"color":"#000"},{"offset":0.871,"color":"#000"},{"offset":0.871,"color":"#fff"},{"offset":0.88,"color":"#fff"},{"offset":0.88,"color":"#000"},{"offset":0.891,"color":"#000"},{"offset":0.891,"color":"#fff"},{"offset":0.9,"color":"#fff"},{"offset":0.9,"color":"#000"},{"offset":0.911,"color":"#000"},{"offset":0.911,"color":"#fff"},{"offset":0.92,"color":"#fff"},{"offset":0.92,"color":"#000"},{"offset":0.931,"color":"#000"},{"offset":0.931,"color":"#fff"},{"offset":0.94,"color":"#fff"},{"offset":0.94,"color":"#000"},{"offset":0.951,"color":"#000"},{"offset":0.951,"color":"#fff"},{"offset":0.96,"color":"#fff"},{"offset":0.96,"color":"#000"},{"offset":0.971,"color":"#000"},{"offset":0.971,"color":"#fff"},{"offset":0.98,"color":"#fff"},{"offset":0.98,"color":"#000"},{"offset":0.991,"color":"#000"},{"offset":0.991,"color":"#fff"},{"offset":1,"color":"#fff"}]}},
 "encoding": {"x": {"field": "group", "type": "nominal"}, "xOffset": {"field": "series", "type": "nominal"}, "y": {"field": "value", "type": "quantitative"}}},
{"data": {"name": "bars"}, "transform": [{"filter": "datum.cortex === 'Contralateral'"}],
 "mark": {"type": "rule", "strokeWidth": 1.6, "color": "black"},
 "encoding": {"x": {"field": "group", "type": "nominal"}, "xOffset": {"field": "series", "type": "nominal"}, "y": {"field": "value", "type": "quantitative"}, "y2": {"field": "err"}}},
{"data": {"name": "bars"}, "transform": [{"filter": "datum.cortex === 'Contralateral'"}],
 "mark": {"type": "tick", "orient": "horizontal", "size": 11, "thickness": 1.6, "color": "black", "opacity": 1},
 "encoding": {"x": {"field": "group", "type": "nominal"}, "xOffset": {"field": "series", "type": "nominal"}, "y": {"field": "err", "type": "quantitative"}}},
{"data": {"name": "brackets"}, "transform": [{"filter": "datum.cortex === 'Contralateral' && datum.part === 't5a'"}],
 "mark": {"type": "rule", "strokeWidth": 1.5, "color": "#222"},
 "encoding": {"x": {"field": "g1", "type": "nominal", "bandPosition": -0.03}, "x2": {"field": "g2", "bandPosition": 0.42}, "y": {"field": "ya", "type": "quantitative"}}},
{"data": {"name": "brackets"}, "transform": [{"filter": "datum.cortex === 'Contralateral' && datum.part === 't5b'"}],
 "mark": {"type": "rule", "strokeWidth": 1.5, "color": "#222"},
 "encoding": {"x": {"field": "g1", "type": "nominal", "bandPosition": 0.78}, "x2": {"field": "g2", "bandPosition": 1.13}, "y": {"field": "ya", "type": "quantitative"}}},
{"data": {"name": "brackets"}, "transform": [{"filter": "datum.cortex === 'Contralateral' && datum.part === 't5l'"}],
 "mark": {"type": "rule", "strokeWidth": 1.5, "color": "#222"},
 "encoding": {"x": {"field": "g1", "type": "nominal", "bandPosition": -0.03}, "y": {"field": "ya", "type": "quantitative"}, "y2": {"field": "yb"}}},
{"data": {"name": "brackets"}, "transform": [{"filter": "datum.cortex === 'Contralateral' && datum.part === 't5r'"}],
 "mark": {"type": "rule", "strokeWidth": 1.5, "color": "#222"},
 "encoding": {"x": {"field": "g1", "type": "nominal", "bandPosition": 1.13}, "y": {"field": "ya", "type": "quantitative"}, "y2": {"field": "yb"}}},
{"data": {"name": "brackets"}, "transform": [{"filter": "datum.cortex === 'Contralateral' && datum.part === 'hy'"}],
 "mark": {"type": "rule", "strokeWidth": 1.5, "color": "#222"},
 "encoding": {"x": {"field": "g1", "type": "nominal", "bandPosition": -0.34}, "x2": {"field": "g2", "bandPosition": 1.24}, "y": {"field": "ya", "type": "quantitative"}}},
{"data": {"name": "brackets"}, "transform": [{"filter": "datum.cortex === 'Contralateral' && datum.part === 'hyl'"}],
 "mark": {"type": "rule", "strokeWidth": 1.5, "color": "#222"},
 "encoding": {"x": {"field": "g1", "type": "nominal", "bandPosition": -0.34}, "y": {"field": "ya", "type": "quantitative"}, "y2": {"field": "yb"}}},
{"data": {"name": "brackets"}, "transform": [{"filter": "datum.cortex === 'Contralateral' && datum.part === 'hyr'"}],
 "mark": {"type": "rule", "strokeWidth": 1.5, "color": "#222"},
 "encoding": {"x": {"field": "g1", "type": "nominal", "bandPosition": 1.24}, "y": {"field": "ya", "type": "quantitative"}, "y2": {"field": "yb"}}},
{"data": {"name": "ticklabels"},
 "mark": {"type": "text", "fontSize": 21, "fontWeight": "bold", "baseline": "alphabetic", "color": "black"},
 "encoding": {"x": {"field": "group", "type": "nominal"}, "y": {"datum": -5.9, "type": "quantitative"}, "text": {"field": "label"}}},
{"data": {"name": "conds"}, "transform": [{"filter": "datum.group === 'Normotension'"}],
 "mark": {"type": "text", "fontSize": 20, "angle": -45, "align": "right", "baseline": "middle", "color": "black"},
 "encoding": {"x": {"field": "group", "type": "nominal", "bandPosition": 0.41}, "y": {"datum": -15.5, "type": "quantitative"}, "text": {"field": "label"}}},
{"data": {"name": "conds"}, "transform": [{"filter": "datum.group !== 'Normotension'"}],
 "mark": {"type": "text", "fontSize": 20, "angle": -45, "align": "right", "baseline": "middle", "color": "black"},
 "encoding": {"x": {"field": "group", "type": "nominal", "bandPosition": 0.6}, "y": {"datum": -15.5, "type": "quantitative"}, "text": {"field": "label"}}},
{"data": {"name": "hypo"},
 "mark": {"type": "text", "fontSize": 20, "baseline": "alphabetic", "color": "black"},
 "encoding": {"x": {"field": "group", "type": "nominal", "bandPosition": 1.19}, "y": {"datum": -40.6, "type": "quantitative"}, "text": {"field": "label"}}}
]
}
],
"config": {
 "font": "Liberation Sans",
 "view": {"stroke": null},
 "axis": {"labelFont": "Liberation Sans", "titleFont": "Liberation Sans"},
 "title": {"font": "Liberation Sans"}
}
}
